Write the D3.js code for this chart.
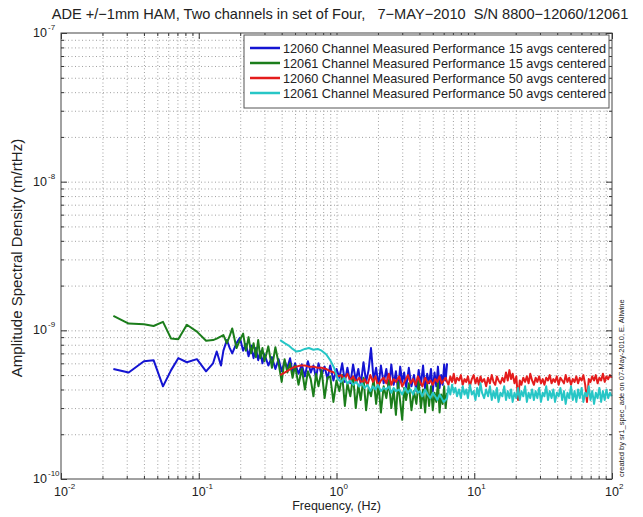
<!DOCTYPE html>
<html>
<head>
<meta charset="utf-8">
<script src="https://cdn.jsdelivr.net/npm/d3@7"></script>
<style>
  body { margin: 0; background: #fff; }
  svg text { font-family: Arial, "Liberation Sans", sans-serif; fill: #222; }
</style>
</head>
<body>
<div id="chart"></div>
<script>
// frequencies in Hz, spectral densities in units of 1e-10 m/rtHz
const freq15 = [
  0.024, 0.031, 0.040, 0.047, 0.055, 0.063, 0.071, 0.082, 0.097, 0.113,
  0.127, 0.135, 0.145, 0.151, 0.160, 0.168, 0.175, 0.188, 0.199, 0.21,
  0.22, 0.23, 0.24, 0.25, 0.26, 0.27, 0.28, 0.29, 0.30, 0.32,
  0.34, 0.36, 0.38, 0.40, 0.42, 0.44, 0.46, 0.48, 0.50, 0.53,
  0.56, 0.59, 0.62, 0.65, 0.68, 0.71, 0.74, 0.78, 0.82, 0.86,
  0.90, 0.95, 1.0, 1.05, 1.1, 1.15, 1.2, 1.26, 1.32, 1.38,
  1.44, 1.5, 1.57, 1.64, 1.71, 1.78, 1.86, 1.94, 2.02, 2.1,
  2.2, 2.3, 2.4, 2.5, 2.6, 2.7, 2.8, 2.9, 3.0, 3.1,
  3.2, 3.35, 3.5, 3.65, 3.8, 3.95, 4.1, 4.25, 4.4, 4.55,
  4.7, 4.85, 5.0, 5.15, 5.3, 5.45, 5.6, 5.75, 5.9, 6.05,
  6.2, 6.35
]
const asd12060avg15 = [
  5.5, 5.2, 6.2, 6.3, 4.2, 5.4, 6.5, 6.1, 6.4, 5.3,
  6.0, 7.2, 5.8, 7.3, 8.6, 7.6, 7.0, 8.2, 8.9, 7.3,
  8.1, 6.7, 7.9, 6.5, 7.6, 6.3, 7.2, 6.0, 6.9, 5.8,
  6.6, 5.5, 6.4, 5.3, 6.2, 5.6, 6.5, 5.2, 6.0, 5.1,
  5.9, 4.9, 6.2, 5.2, 5.8, 4.8, 6.0, 5.0, 5.7, 4.7,
  5.8, 4.6, 5.5, 4.8, 6.0, 4.5, 5.6, 4.4, 5.9, 4.6,
  5.5, 4.3, 6.1, 4.5, 5.4, 7.6, 4.6, 5.6, 4.2, 5.8,
  4.4, 5.5, 4.0, 5.9, 4.3, 5.3, 3.9, 5.7, 4.5, 5.2,
  4.1, 5.6, 4.2, 5.0, 3.9, 5.4, 4.3, 5.8, 4.0, 5.1,
  4.4, 5.5, 3.9, 5.2, 4.2, 5.7, 4.1, 5.0, 4.3, 5.9,
  4.6, 6.0
]
const asd12061avg15 = [
  12.5, 11.1, 11.0, 10.7, 11.4, 8.8, 8.7, 10.9, 9.8, 8.5,
  8.6, 8.8, 9.1, 9.3, 8.2, 9.2, 10.3, 7.6, 8.6, 9.5,
  7.3, 9.0, 7.0, 8.2, 6.6, 8.6, 6.5, 7.6, 6.2, 7.8,
  5.6, 7.7, 6.0, 4.5, 6.4, 5.2, 6.0, 4.8, 5.8, 4.3,
  5.5, 4.0, 5.3, 4.7, 3.6, 5.1, 4.2, 5.4, 3.5, 4.8,
  4.9, 3.3, 4.6, 3.9, 5.0, 3.1, 4.4, 3.6, 4.9, 3.0,
  4.3, 3.4, 4.8, 2.9, 4.1, 3.6, 4.7, 3.2, 4.4, 2.8,
  4.2, 3.5, 4.6, 3.0, 4.0, 2.7, 4.5, 3.3, 2.5, 4.1,
  3.4, 4.4, 2.9, 3.9, 3.2, 4.6, 3.0, 4.0, 2.8, 4.3,
  3.1, 4.2, 2.9, 3.8, 3.3, 4.5, 2.8, 3.7, 3.2, 4.2,
  3.0, 3.8
]
const freq50 = [
  0.39, 0.42, 0.45, 0.48, 0.51, 0.55, 0.59, 0.63, 0.68, 0.73,
  0.78, 0.84, 0.90, 0.96, 1.02, 1.08, 1.14, 1.2, 1.26, 1.32,
  1.39, 1.46, 1.53, 1.6, 1.68, 1.76, 1.84, 1.92, 2.0, 2.1,
  2.2, 2.3, 2.4, 2.5, 2.6, 2.7, 2.85, 3.0, 3.15, 3.3,
  3.45, 3.6, 3.75, 3.9, 4.05, 4.2, 4.4, 4.6, 4.8, 5.0,
  5.2, 5.4, 5.6, 5.8, 6.0, 6.2, 6.35,
  6.5, 6.7, 6.9, 7.1, 7.3, 7.5, 7.75, 8.0, 8.25, 8.5,
  8.75, 9.0, 9.3, 9.6, 9.9, 10.2, 10.5, 10.8, 11.1, 11.4,
  11.8, 12.2, 12.6, 13.0, 13.4, 13.8, 14.2, 14.6, 15.0, 15.5,
  16.0, 16.5, 17.0, 17.5, 18.0, 18.5, 19.0, 19.6, 20.2, 20.8,
  21.4, 22.0, 22.7, 23.4, 24.1, 24.8, 25.5, 26.3, 27.1, 27.9,
  28.7, 29.6, 30.5, 31.4, 32.3, 33.3, 34.3, 35.3, 36.4, 37.5,
  38.6, 39.8, 41.0, 42.2, 43.5, 44.8, 46.1, 47.5, 48.9, 50.4,
  51.9, 53.5, 55.1, 56.7, 58.4, 60.2, 62.0, 63.9, 65.8, 67.8,
  69.8, 71.9, 74.1, 76.3, 78.6, 81.0, 83.4, 85.9, 88.5, 91.1,
  93.8, 96.6, 99.5
]
const asd12060avg50 = [
  5.0, 5.2, 5.4, 5.6, 5.7, 5.8, 5.8, 5.7, 5.7, 5.6,
  5.6, 5.5, 5.3, 5.2, 4.9, 5.0, 4.7, 5.1, 4.6, 4.9,
  4.5, 4.8, 4.4, 4.7, 4.3, 5.0, 4.5, 4.9, 4.2, 4.6,
  4.8, 4.4, 5.1, 4.3, 4.7, 4.5, 4.9, 4.2, 4.6, 5.0,
  4.4, 4.7, 4.3, 4.9, 4.5, 4.2, 4.8, 4.4, 4.6, 4.3,
  4.7, 4.5, 4.9, 4.4, 4.6, 4.8, 4.5,
  4.3, 4.9, 4.5, 5.1, 4.4, 4.8, 4.6, 5.0, 4.3, 4.7,
  4.5, 4.9, 4.2, 4.7, 5.0, 4.4, 4.8, 4.3, 4.9, 4.5,
  4.7, 4.2, 4.8, 4.4, 5.0, 4.5, 4.3, 4.9, 4.6, 4.4,
  4.8, 4.5, 5.2, 4.6, 5.4, 4.7, 5.1, 4.4, 4.9, 3.4,
  4.6, 4.3, 4.8, 4.5, 4.9, 4.4, 5.1, 4.6, 4.3, 4.8,
  4.5, 4.9, 4.4, 4.7, 4.3, 4.8, 4.6, 5.0, 4.4, 4.7,
  4.5, 4.9, 4.3, 4.8, 4.6, 4.4, 5.0, 4.5, 4.8, 4.3,
  4.7, 4.5, 4.9, 4.4, 4.8, 4.6, 5.0, 4.3, 3.3, 4.7,
  4.5, 4.9, 4.6, 5.0, 4.4, 4.8, 4.6, 5.1, 4.5, 4.9,
  4.7, 5.0, 4.8
]
const asd12061avg50 = [
  8.6, 8.2, 7.9, 7.5, 7.2, 7.3, 7.5, 7.6, 7.4, 7.5,
  7.3, 6.9, 6.3, 5.6, 4.7, 4.5, 4.8, 4.4, 4.6, 4.3,
  4.5, 4.2, 4.4, 4.1, 4.3, 3.9, 4.2, 4.0, 4.3, 3.9,
  4.1, 4.0, 4.2, 3.8, 4.1, 3.9, 4.0, 3.7, 4.1, 3.8,
  4.0, 3.7, 4.1, 3.8, 3.9, 3.6, 4.0, 3.7, 3.5, 3.8,
  3.6, 3.4, 3.7, 3.5, 3.3, 3.4, 3.5,
  4.2, 3.7, 4.3, 3.8, 4.1, 3.6, 4.0, 3.5, 4.2, 3.7,
  4.0, 3.5, 4.3, 3.7, 3.9, 3.4, 4.1, 3.6, 4.4, 3.8,
  3.5, 4.0, 3.6, 4.2, 3.4, 3.9, 3.5, 4.1, 3.3, 3.8,
  3.6, 4.2, 3.4, 3.9, 3.5, 4.0, 3.3, 3.8, 3.5, 4.1,
  3.4, 3.9, 3.6, 4.2, 3.3, 3.8, 3.5, 4.0, 3.4, 3.9,
  3.5, 4.1, 3.3, 3.8, 3.6, 4.2, 3.4, 3.9, 3.5, 4.0,
  3.3, 3.8, 3.6, 4.1, 3.4, 3.9, 3.2, 3.8, 3.5, 4.2,
  3.4, 3.9, 3.3, 4.0, 3.5, 4.1, 3.3, 3.8, 3.6, 4.2,
  3.4, 3.9, 3.2, 3.8, 3.5, 4.1, 3.3, 3.9, 3.4, 4.0,
  3.5, 3.8, 3.6
]
const seriesNames = [
  '12060 Channel Measured Performance 15 avgs centered',
  '12061 Channel Measured Performance 15 avgs centered',
  '12060 Channel Measured Performance 50 avgs centered',
  '12061 Channel Measured Performance 50 avgs centered'
]
const seriesColors = ['#1414d2', '#1b7d1b', '#e41c1c', '#27c6c6']
const xDecades = [-2, -1, 0, 1, 2]
const yDecades = [-10, -9, -8, -7]
const title = 'ADE +/\u22121mm HAM, Two channels in set of Four,   7\u2212MAY\u22122010  S/N 8800\u221212060/12061'
const unit = 1e-10

const W = 643, H = 517
const margin = { top: 33, right: 31, bottom: 38, left: 61 }
const width = W - margin.left - margin.right
const height = H - margin.top - margin.bottom

const svg = d3.select('#chart').append('svg')
  .attr('width', W)
  .attr('height', H)

const g = svg.append('g')
  .attr('transform', `translate(${margin.left},${margin.top})`)

const x = d3.scaleLog().domain([1e-2, 1e2]).range([0, width])
const y = d3.scaleLog().domain([1e-10, 1e-7]).range([height, 0])

const isMajor = v => Math.abs(Math.log10(v) - Math.round(Math.log10(v))) < 1e-9
const xAll = x.ticks()
const yAll = y.ticks()
const xMajor = xDecades.map(e => Math.pow(10, e))
const yMajor = yDecades.map(e => Math.pow(10, e))
const xMinor = xAll.filter(v => !isMajor(v))
const yMinor = yAll.filter(v => !isMajor(v))

// dotted grid at every tick
const gx = g.append('g')
  .attr('transform', `translate(0,${height})`)
  .call(d3.axisBottom(x).tickValues(xAll.filter(v => v > 1e-2 && v < 1e2)).tickSize(-height).tickFormat(''))
const gy = g.append('g')
  .call(d3.axisLeft(y).tickValues(yAll.filter(v => v > 1e-10 && v < 1e-7)).tickSize(-width).tickFormat(''))
for (const gg of [gx, gy]) {
  gg.select('.domain').remove()
  gg.selectAll('line').attr('stroke', '#888').attr('stroke-width', 0.8).attr('stroke-dasharray', '1,2.5')
}

// data lines
const line = d3.line()
  .x(d => x(d[0]))
  .y(d => y(d[1] * unit))

const series = [
  d3.zip(freq15, asd12060avg15),
  d3.zip(freq15, asd12061avg15),
  d3.zip(freq50, asd12060avg50),
  d3.zip(freq50, asd12061avg50)
]

g.selectAll('.series')
  .data(series).enter()
  .append('path')
  .attr('class', 'series')
  .attr('d', line)
  .attr('fill', 'none')
  .attr('stroke', (d, i) => seriesColors[i])
  .attr('stroke-width', 2)
  .attr('stroke-linejoin', 'round')

// ticks inside on all four sides
const tickAxes = [
  [d3.axisBottom(x), `translate(0,${height})`, xMajor, xMinor],
  [d3.axisTop(x), 'translate(0,0)', xMajor, xMinor],
  [d3.axisLeft(y), 'translate(0,0)', yMajor, yMinor],
  [d3.axisRight(y), `translate(${width},0)`, yMajor, yMinor]
]
for (const [ax, tr, major, minor] of tickAxes) {
  const a = g.append('g').attr('transform', tr)
    .call(ax.tickValues(major).tickSize(-6).tickFormat(''))
  a.select('.domain').remove()
  a.selectAll('line').attr('stroke', '#333')
  const b = g.append('g').attr('transform', tr)
    .call(ax.tickValues(minor).tickSize(-3).tickFormat(''))
  b.select('.domain').remove()
  b.selectAll('line').attr('stroke', '#333')
}

g.append('rect')
  .attr('width', width)
  .attr('height', height)
  .attr('fill', 'none')
  .attr('stroke', '#444')

// tick labels as 10 with superscript exponent
xDecades.forEach(e => {
  const px = x(Math.pow(10, e))
  g.append('text').attr('x', px).attr('y', height + 17)
    .attr('text-anchor', 'middle').attr('font-size', 12.5).text('10')
  g.append('text').attr('x', px + 7).attr('y', height + 10)
    .attr('font-size', 8).text(e)
})
yDecades.forEach(e => {
  const py = y(Math.pow(10, e))
  g.append('text').attr('x', -14).attr('y', py + 4)
    .attr('text-anchor', 'end').attr('font-size', 12.5).text('10')
  g.append('text').attr('x', -13).attr('y', py - 3)
    .attr('font-size', 8).text(e)
})

// axis titles
svg.append('text')
  .attr('x', margin.left + width / 2).attr('y', 510)
  .attr('text-anchor', 'middle').attr('font-size', 12.5)
  .text('Frequency, (Hz)')

svg.append('text')
  .attr('transform', `translate(22,${margin.top + height / 2 + 2}) rotate(-90)`)
  .attr('text-anchor', 'middle').attr('font-size', 15)
  .text('Amplitude Spectral Density (m/rtHz)')

svg.append('text')
  .attr('x', 340).attr('y', 19)
  .attr('text-anchor', 'middle').attr('font-size', 14.6)
  .style('white-space', 'pre')
  .text(title)

// small vertical stamp on the right
svg.append('text')
  .attr('transform', 'translate(624,477) rotate(-90)')
  .attr('font-size', 7.5).attr('fill', '#555')
  .text('created by sr1_spec_ade on 07-May-2010, E. Allwine')

// legend
const lg = g.append('g').attr('transform', 'translate(183,2)')
lg.append('rect')
  .attr('width', 365).attr('height', 73)
  .attr('fill', '#fff').attr('stroke', '#555')
seriesNames.forEach((name, i) => {
  const ly = 13 + i * 15
  lg.append('line')
    .attr('x1', 6).attr('x2', 36).attr('y1', ly).attr('y2', ly)
    .attr('stroke', seriesColors[i]).attr('stroke-width', 2.5)
  lg.append('text')
    .attr('x', 39).attr('y', ly + 4.5)
    .attr('font-size', 12.7)
    .text(name)
})
</script>
</body>
</html>
